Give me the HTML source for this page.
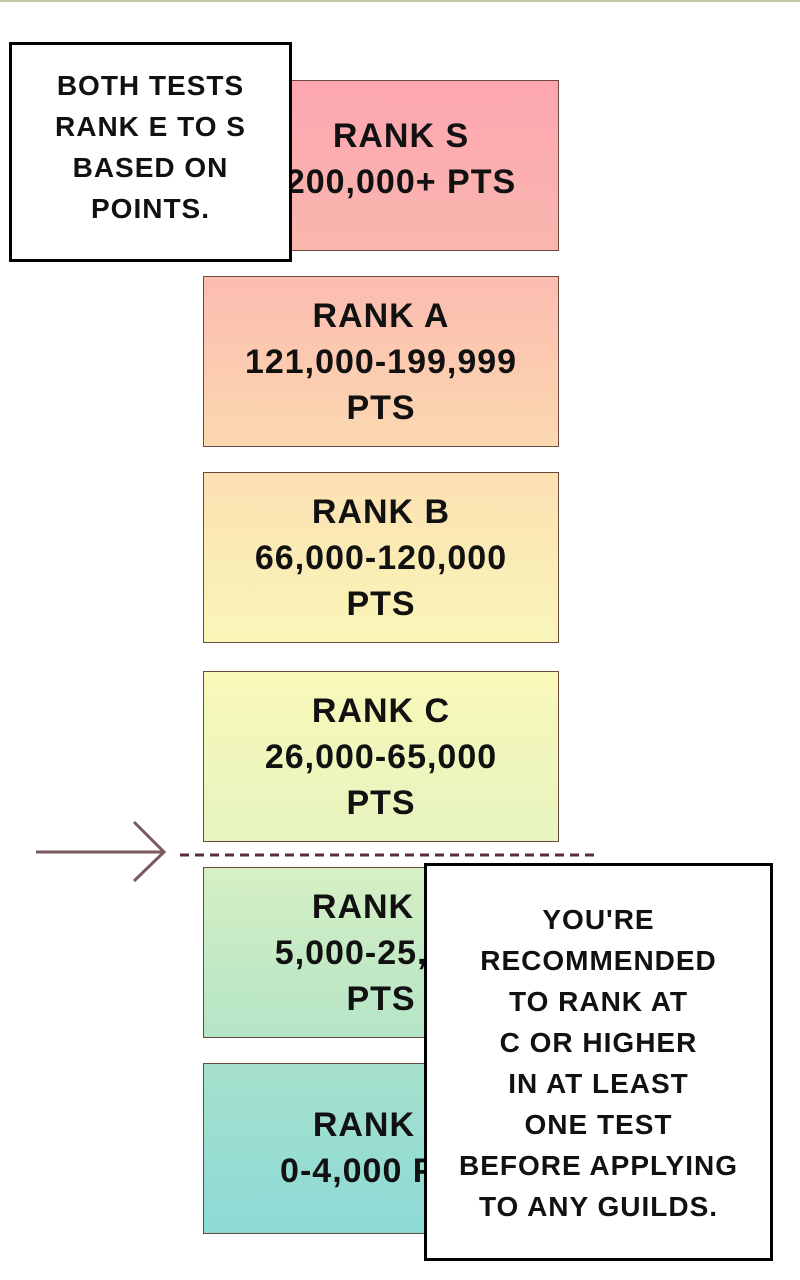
<!DOCTYPE html>
<html><head><style>
body{margin:0;width:800px;height:1280px;background:#fff;position:relative;overflow:hidden;font-family:"Liberation Sans",sans-serif;}
.b{position:absolute;left:203px;width:356px;height:171px;border:1px solid #6a4a40;box-sizing:border-box;text-align:center;font-size:34px;line-height:46px;padding-top:16px;color:#111;letter-spacing:1px;font-weight:bold;}
.cap{position:absolute;background:#fff;border:3px solid #000;box-sizing:border-box;text-align:center;color:#111;font-size:28px;line-height:41px;letter-spacing:1px;font-weight:bold;}
</style></head><body>
<div style="position:absolute;left:0;top:0;width:800px;height:2px;background:#c8c8a8"></div>
<div class="b" style="top:80px;background:linear-gradient(#fda6b0,#f9b6ae);padding-left:40px;padding-top:32px">RANK S<br>200,000+ PTS</div>
<div class="b" style="top:276px;background:linear-gradient(#fcbcb0,#fbd8b0)">RANK A<br>121,000-199,999<br>PTS</div>
<div class="b" style="top:472px;background:linear-gradient(#fce0b2,#f9f6b8)">RANK B<br>66,000-120,000<br>PTS</div>
<div class="b" style="top:671px;background:linear-gradient(#f9f8b8,#e6f4c0)">RANK C<br>26,000-65,000<br>PTS</div>
<div class="b" style="top:867px;background:linear-gradient(#d6f0c4,#b4e4c6)">RANK D<br>5,000-25,000<br>PTS</div>
<div class="b" style="top:1063px;background:linear-gradient(#a6e0cc,#8cdad6);padding-top:38px">RANK E<br>0-4,000 PTS</div>
<svg style="position:absolute;left:0;top:0" width="800" height="1280">
<line x1="36" y1="852" x2="164" y2="852" stroke="#7a5a5c" stroke-width="3"/>
<polyline points="134,822 164,852 134,881" fill="none" stroke="#7a5a5c" stroke-width="3"/>
<line x1="180" y1="855" x2="598" y2="855" stroke="#5a3038" stroke-width="3" stroke-dasharray="9,6"/>
</svg>
<div class="cap" style="left:9px;top:42px;width:283px;height:220px;padding-top:20px;">BOTH TESTS<br>RANK E TO S<br>BASED ON<br>POINTS.</div>
<div class="cap" style="left:424px;top:863px;width:349px;height:398px;padding-top:33px;">YOU'RE<br>RECOMMENDED<br>TO RANK AT<br>C OR HIGHER<br>IN AT LEAST<br>ONE TEST<br>BEFORE APPLYING<br>TO ANY GUILDS.</div>
</body></html>
